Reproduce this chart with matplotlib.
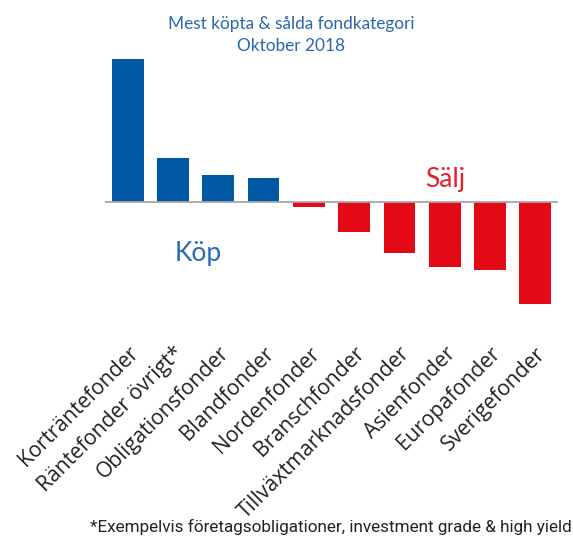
import matplotlib
matplotlib.use("Agg")
import matplotlib.pyplot as plt

categories = ["Korträntefonder", "Räntefonder övrigt*", "Obligationsfonder", "Blandfonder",
              "Nordenfonder", "Branschfonder", "Tillväxtmarknadsfonder", "Asienfonder",
              "Europafonder", "Sverigefonder"]
values = [142.7, 43.7, 26.7, 23.7, -5.3, -30.0, -50.7, -64.7, -67.7, -102.0]
title_lines = ["Mest köpta & sålda fondkategori", "Oktober 2018"]
buy_label = "Köp"
sell_label = "Sälj"
footnote = "*Exempelvis företagsobligationer, investment grade & high yield"

BLUE = "#0057A3"
RED = "#E30916"
TITLE_BLUE = "#2A66AE"

fig = plt.figure(figsize=(5.73, 5.38), dpi=100)
ax = fig.add_axes([105/573, 1-340/538, 453/573, 283/538])

colors = [BLUE if v >= 0 else RED for v in values]
x = range(len(values))
ax.bar(x, values, width=0.7, color=colors)
ax.axhline(0, color="#A8A8A8", lw=1.3)
ax.set_xlim(-0.5, 9.5)
ax.set_ylim(-138, 145)
for s in ax.spines.values():
    s.set_visible(False)
ax.set_yticks([])
ax.set_xticks(list(x))
ax.set_xticklabels(categories, rotation=45, ha="right", va="top", rotation_mode="anchor",
                   fontsize=15.2, family="Open Sans", color="#222222")
ax.tick_params(axis="x", length=0, pad=2)

fig.text(291/573, 1-29/538, title_lines[0], ha="center", va="baseline",
         fontsize=12.4, family="Lato", color=TITLE_BLUE)
fig.text(291/573, 1-50.7/538, title_lines[1], ha="center", va="baseline",
         fontsize=12.4, family="Lato", color=TITLE_BLUE)
fig.text(198/573, 1-260.5/538, buy_label, ha="center", va="baseline",
         fontsize=19, family="Lato", color="#2A6AB2")
fig.text(445/573, 1-187/538, sell_label, ha="center", va="baseline",
         fontsize=19, family="Lato", color="#E3202C")
fig.text(90/573, 1-531.7/538, footnote, ha="left", va="baseline",
         fontsize=12.35, family="Roboto", color="#222222")

fig.savefig("out.png", dpi=100)
